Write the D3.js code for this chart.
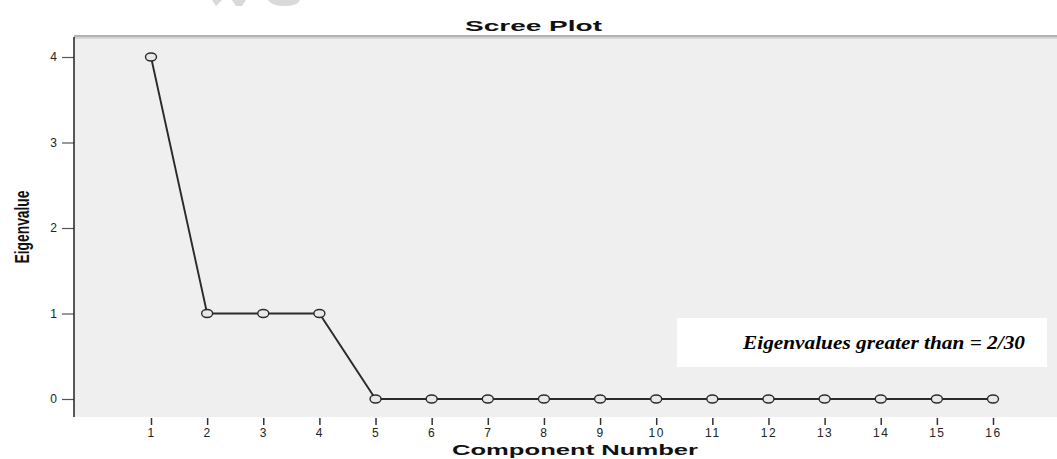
<!DOCTYPE html>
<html>
<head>
<meta charset="utf-8">
<script src="https://cdn.jsdelivr.net/npm/d3@7"></script>
<style>
html,body{margin:0;padding:0;background:#fff;}
svg{display:block;}
</style>
</head>
<body>
<svg id="chart" width="1057" height="459"></svg>
<script>
const components = [1,2,3,4,5,6,7,8,9,10,11,12,13,14,15,16];
const eigenvalues = [4,1,1,1,0,0,0,0,0,0,0,0,0,0,0,0];
const yTicks = [0,1,2,3,4];
const titleText = "Scree Plot";
const xTitle = "Component Number";
const yTitle = "Eigenvalue";
const noteText = "Eigenvalues greater than = 2/30";

const svg = d3.select("#chart");
const plot = {left:74, top:37, right:1057, bottom:417};

const x = d3.scaleLinear().domain([1,16]).range([151,993]);
const y = d3.scaleLinear().domain([0,4]).range([399,57]);

// faint watermark artifacts at top
svg.append("path").attr("d","M212,0 L222,0 L216,6 Z M232,0 L246,0 L242,6 L236,6 Z").attr("fill","#d9d9d9");
svg.append("path").attr("d","M268,0 L300,0 Q298,6 284,6 Q272,6 268,0 Z").attr("fill","#d9d9d9");

// plot background
svg.append("rect").attr("x",plot.left).attr("y",plot.top)
  .attr("width",plot.right-plot.left).attr("height",plot.bottom-plot.top)
  .attr("fill","#efefef");
svg.append("line").attr("x1",plot.left).attr("x2",plot.right).attr("y1",36).attr("y2",36).attr("stroke","#666").attr("stroke-width",1.2);
svg.append("line").attr("x1",plot.left).attr("x2",plot.right).attr("y1",38).attr("y2",38).attr("stroke","#bbb").attr("stroke-width",1);

// title
svg.append("text").attr("x",465).attr("y",31).text(titleText)
  .attr("font-family","Liberation Sans, Arial, sans-serif").attr("font-weight","bold")
  .attr("font-size",15).attr("textLength",137).attr("lengthAdjust","spacingAndGlyphs").attr("fill","#111");

// y axis
const yAxis = d3.axisLeft(y).tickValues(yTicks).tickSize(12).tickPadding(5).tickFormat(d3.format("d"));
const gy = svg.append("g").attr("transform",`translate(${plot.left},0)`).call(yAxis);
gy.select(".domain").remove();
gy.selectAll(".tick line").attr("stroke","#555").attr("stroke-width",1.2);
gy.selectAll(".tick text").attr("font-family","Liberation Sans, Arial, sans-serif").attr("font-size",12).attr("fill","#222");
svg.append("line").attr("x1",plot.left).attr("x2",plot.left).attr("y1",plot.top).attr("y2",plot.bottom)
  .attr("stroke","#222").attr("stroke-width",1.5);

// x axis
const xAxis = d3.axisBottom(x).tickValues(components).tickSize(7).tickPadding(3).tickFormat(d3.format("d"));
const gx = svg.append("g").attr("transform",`translate(0,${plot.bottom+1})`).call(xAxis);
gx.select(".domain").remove();
gx.selectAll(".tick line").attr("stroke","#333").attr("stroke-width",1.5);
gx.selectAll(".tick text").attr("font-family","Liberation Sans, Arial, sans-serif").attr("font-size",12)
  .attr("letter-spacing",1.5).attr("fill","#222");

// axis titles
svg.append("text").attr("x",452).attr("y",455).text(xTitle)
  .attr("font-family","Liberation Sans, Arial, sans-serif").attr("font-weight","bold")
  .attr("font-size",14).attr("textLength",246).attr("lengthAdjust","spacingAndGlyphs").attr("fill","#111");
svg.append("text").attr("transform","translate(29,227) rotate(-90)").attr("text-anchor","middle").text(yTitle)
  .attr("font-family","Liberation Sans Narrow, Liberation Sans, Arial, sans-serif").attr("font-weight","bold")
  .attr("font-size",20).attr("textLength",73).attr("lengthAdjust","spacingAndGlyphs").attr("fill","#111");

// line
const data = components.map((c,i)=>({c, v:eigenvalues[i]}));
svg.append("path").datum(data)
  .attr("d", d3.line().x(d=>x(d.c)).y(d=>y(d.v)))
  .attr("fill","none").attr("stroke","#2a2a2a").attr("stroke-width",1.9);

// markers
svg.selectAll("ellipse.pt").data(data).enter().append("ellipse").attr("class","pt")
  .attr("cx",d=>x(d.c)).attr("cy",d=>y(d.v)).attr("rx",5.5).attr("ry",4)
  .attr("fill","#e8e8e8").attr("stroke","#2a2a2a").attr("stroke-width",1.4);

// annotation box
svg.append("rect").attr("x",677).attr("y",318).attr("width",370).attr("height",49).attr("fill","#fff");
svg.append("text").attr("x",743).attr("y",349).text(noteText)
  .attr("font-family","Liberation Serif, Times New Roman, serif").attr("font-style","italic").attr("font-weight","bold")
  .attr("font-size",19).attr("textLength",282).attr("lengthAdjust","spacingAndGlyphs").attr("fill","#000");
</script>
</body>
</html>
